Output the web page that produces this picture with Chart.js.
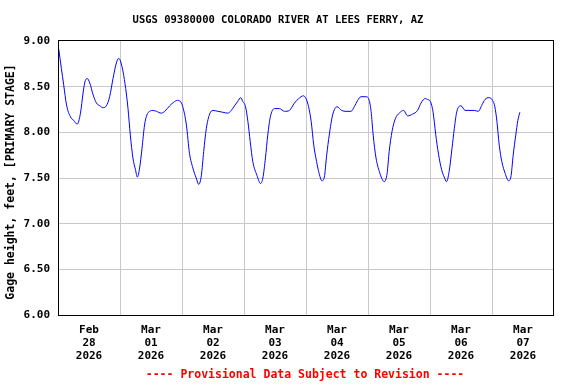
<!DOCTYPE html>
<html>
<head>
<meta charset="utf-8">
<script src="https://cdn.jsdelivr.net/npm/chart.js@4"></script>
<style>
  body { margin: 0; background: #fff; }
  #wrap { width: 576px; height: 384px; }
</style>
</head>
<body>
<div id="wrap"><canvas id="gage" width="576" height="384"></canvas></div>
<script>
// hours since Feb 28 2026 00:00
const hours = [
  0.3, 1.3, 2.2, 3.3, 4.8, 6.1, 7.4, 8.7, 9.7, 10.4, 11.3, 12.3, 13.6, 14.9, 16.2, 17.4, 18.7, 20.0, 21.3, 22.6, 23.5,
  24.3, 25.2, 26.2, 27.1, 28.0, 29.0, 30.0, 30.7, 31.6, 32.5, 33.5, 34.4, 35.5, 36.8, 38.1, 40.0, 41.3, 43.2, 44.8, 46.2, 47.3,
  48.3, 49.7, 50.9, 52.2, 53.5, 54.5, 55.5, 56.4, 57.4, 58.7, 60.0, 61.9, 63.8, 65.7, 67.1, 68.3, 69.6, 70.7, 71.5,
  72.6, 73.5, 74.4, 75.4, 77.0, 78.4, 79.3, 80.3, 81.2, 82.2, 83.8, 85.7, 87.7, 89.6, 91.5, 93.2, 95.0,
  96.0, 97.0, 98.0, 99.0, 100.1, 100.9, 102.2, 103.1, 104.0, 105.0, 106.3, 108.0, 109.8, 111.5, 113.4, 114.7, 116.0, 117.3, 119.2,
  120.2, 121.2, 122.0, 123.1, 124.4, 126.3, 127.4, 128.2, 129.3, 130.6, 132.1, 133.8, 135.3, 137.3, 139.2, 140.5, 142.2, 143.0,
  144.1, 145.2, 146.2, 147.3, 148.5, 149.5, 150.4, 151.4, 152.5, 153.4, 154.4, 156.0, 157.6, 159.1, 161.1, 162.7, 164.1, 165.3, 166.9,
  168.2, 169.1, 169.9, 170.8, 171.8, 173.1, 174.4, 175.3, 176.2, 177.2, 178.0, 178.8
];
// gage height, feet
const stage = [
  8.91, 8.70, 8.52, 8.30, 8.17, 8.13, 8.09, 8.21, 8.43, 8.55, 8.59, 8.54, 8.41, 8.32, 8.29, 8.27, 8.29, 8.39, 8.59, 8.76, 8.81,
  8.77, 8.66, 8.48, 8.26, 7.97, 7.72, 7.59, 7.51, 7.61, 7.82, 8.08, 8.19, 8.23, 8.24, 8.23, 8.21, 8.23, 8.29, 8.33, 8.35, 8.34,
  8.28, 8.08, 7.77, 7.61, 7.50, 7.43, 7.53, 7.79, 8.04, 8.20, 8.24, 8.23, 8.22, 8.21, 8.24, 8.29, 8.34, 8.38, 8.34,
  8.28, 8.12, 7.90, 7.68, 7.53, 7.44, 7.50, 7.72, 7.97, 8.17, 8.26, 8.26, 8.23, 8.24, 8.32, 8.37, 8.40,
  8.37, 8.28, 8.12, 7.86, 7.68, 7.57, 7.47, 7.51, 7.75, 7.97, 8.19, 8.28, 8.24, 8.23, 8.23, 8.28, 8.35, 8.39, 8.39,
  8.37, 8.23, 7.97, 7.72, 7.57, 7.46, 7.55, 7.79, 8.01, 8.15, 8.21, 8.24, 8.18, 8.20, 8.24, 8.32, 8.37, 8.36,
  8.34, 8.22, 7.98, 7.76, 7.59, 7.51, 7.46, 7.57, 7.82, 8.04, 8.23, 8.29, 8.24, 8.24, 8.24, 8.23, 8.30, 8.36, 8.38,
  8.35, 8.28, 8.12, 7.86, 7.68, 7.55, 7.47, 7.51, 7.75, 7.97, 8.13, 8.22
];
const dayLabels = [
  ["Feb", "28", "2026"], ["Mar", "01", "2026"], ["Mar", "02", "2026"], ["Mar", "03", "2026"],
  ["Mar", "04", "2026"], ["Mar", "05", "2026"], ["Mar", "06", "2026"], ["Mar", "07", "2026"]
];
const yTicks = [6.0, 6.5, 7.0, 7.5, 8.0, 8.5, 9.0];

const titleText = "USGS 09380000 COLORADO RIVER AT LEES FERRY, AZ";
const yTitle = "Gage height, feet, [PRIMARY STAGE]";
const footText = "---- Provisional Data Subject to Revision ----";
const mono = '"DejaVu Sans Mono", "Liberation Mono", monospace';

const textPlugin = {
  id: 'usgsText',
  afterDraw(chart) {
    const ctx = chart.ctx;
    const a = chart.chartArea;
    ctx.save();
    ctx.strokeStyle = '#000';
    ctx.lineWidth = 1;
    ctx.strokeRect(Math.round(a.left) + 0.5, Math.round(a.top) - 0.5, Math.round(a.right - a.left) - 1, Math.round(a.bottom - a.top) + 1);

    ctx.fillStyle = '#000';
    ctx.textAlign = 'center';
    ctx.textBaseline = 'middle';
    ctx.font = 'bold 10.5px ' + mono;
    ctx.fillText(titleText, 278, 20);

    ctx.fillStyle = '#ff0000';
    ctx.font = 'bold 11.5px ' + mono;
    ctx.fillText(footText, 305, 375);

    ctx.fillStyle = '#000';
    ctx.translate(11, 182);
    ctx.rotate(-Math.PI / 2);
    ctx.font = 'bold 11.5px ' + mono;
    ctx.fillText(yTitle, 0, 0);
    ctx.restore();
  }
};

new Chart(document.getElementById('gage'), {
  type: 'line',
  data: {
    datasets: [{
      data: hours.map((h, i) => ({ x: h, y: stage[i] })),
      borderColor: '#0000ff',
      borderWidth: 1,
      pointRadius: 0,
      fill: false,
      cubicInterpolationMode: 'monotone'
    }]
  },
  options: {
    responsive: false,
    animation: false,
    layout: { padding: { top: 41, right: 22, left: 0, bottom: 0 } },
    plugins: { legend: { display: false }, tooltip: { enabled: false }, title: { display: false } },
    scales: {
      x: {
        type: 'linear',
        min: 0,
        max: 192,
        afterBuildTicks: (scale) => {
          const t = [];
          for (let v = 0; v <= 192; v += 12) t.push({ value: v });
          scale.ticks = t;
        },
        afterFit: (scale) => { scale.height = 69; },
        border: { display: false },
        grid: {
          drawTicks: false,
          color: (c) => {
            const v = c.tick ? c.tick.value : 0;
            return (v % 24 === 0 && v > 0 && v < 192) ? '#c8c8c8' : 'rgba(0,0,0,0)';
          },
          lineWidth: 1
        },
        ticks: {
          autoSkip: false,
          maxRotation: 0,
          padding: 9,
          color: '#000',
          font: { family: mono, size: 11, weight: 'bold', lineHeight: 1.18 },
          callback: (v) => (v % 24 === 12) ? dayLabels[(v - 12) / 24] : ''
        }
      },
      y: {
        min: 6,
        max: 9,
        afterBuildTicks: (scale) => { scale.ticks = yTicks.map(v => ({ value: v })); },
        afterFit: (scale) => { scale.width = 58; },
        border: { display: false },
        grid: {
          drawTicks: false,
          color: (c) => {
            const v = c.tick ? c.tick.value : 0;
            return (v > 6 && v < 9) ? '#c8c8c8' : 'rgba(0,0,0,0)';
          },
          lineWidth: 1
        },
        ticks: {
          padding: 8,
          color: '#000',
          font: { family: mono, size: 11, weight: 'bold' },
          callback: (v) => Number(v).toFixed(2)
        }
      }
    }
  },
  plugins: [textPlugin]
});
</script>
</body>
</html>
